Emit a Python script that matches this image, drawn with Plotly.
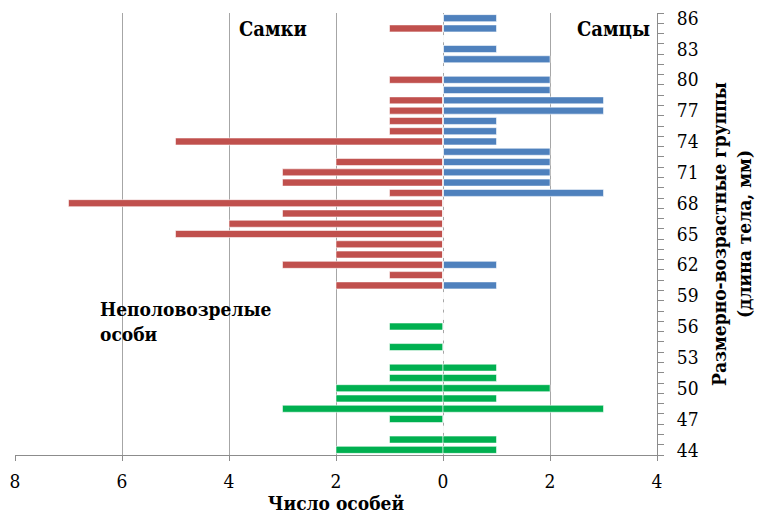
import plotly.graph_objects as go

# Size-age groups (body length, mm)
lengths = [44, 45, 46, 47, 48, 49, 50, 51, 52, 53, 54, 55, 56, 57, 58, 59, 60,
           61, 62, 63, 64, 65, 66, 67, 68, 69, 70, 71, 72, 73, 74, 75, 76, 77,
           78, 79, 80, 81, 82, 83, 84, 85, 86]
# Females (Самки), counts
females = [0, 0, 0, 0, 0, 0, 0, 0, 0, 0, 0, 0, 0, 0, 0, 0, 2,
           1, 3, 2, 2, 5, 4, 3, 7, 1, 3, 3, 2, 0, 5, 1, 1, 1,
           1, 0, 1, 0, 0, 0, 0, 1, 0]
# Males (Самцы), counts
males = [0, 0, 0, 0, 0, 0, 0, 0, 0, 0, 0, 0, 0, 0, 0, 0, 1,
         0, 1, 0, 0, 0, 0, 0, 0, 3, 2, 2, 2, 2, 1, 1, 1, 3,
         3, 2, 2, 0, 2, 1, 0, 1, 1]
# Immature (Неполовозрелые особи), left side and right side counts
immature_left = [2, 1, 0, 1, 3, 2, 2, 1, 1, 0, 1, 0, 1, 0, 0, 0, 0,
                 0, 0, 0, 0, 0, 0, 0, 0, 0, 0, 0, 0, 0, 0, 0, 0, 0,
                 0, 0, 0, 0, 0, 0, 0, 0, 0]
immature_right = [1, 1, 0, 0, 3, 1, 2, 1, 1, 0, 0, 0, 0, 0, 0, 0, 0,
                  0, 0, 0, 0, 0, 0, 0, 0, 0, 0, 0, 0, 0, 0, 0, 0, 0,
                  0, 0, 0, 0, 0, 0, 0, 0, 0]

x_tickvals = [-8, -6, -4, -2, 0, 2, 4]
x_ticktext = ["8", "6", "4", "2", "0", "2", "4"]
y_tickvals = [44, 47, 50, 53, 56, 59, 62, 65, 68, 71, 74, 77, 80, 83, 86]

RED = "#C0504D"
BLUE = "#4F81BD"
GREEN = "#00B050"
FONT = "DejaVu Serif Condensed, DejaVu Serif"
BAR_W = 0.68
EDGE = dict(color="rgba(255,255,255,0.55)", width=1)

fig = go.Figure()
fig.add_trace(go.Bar(y=lengths, x=[-v for v in females], orientation="h",
                     marker=dict(color=RED, line=EDGE), width=BAR_W, name="Самки"))
fig.add_trace(go.Bar(y=lengths, x=males, orientation="h",
                     marker=dict(color=BLUE, line=EDGE), width=BAR_W, name="Самцы"))
fig.add_trace(go.Bar(y=lengths, x=[-v for v in immature_left], orientation="h",
                     marker=dict(color=GREEN, line=EDGE), width=BAR_W, name="Неполовозрелые"))
fig.add_trace(go.Bar(y=lengths, x=immature_right, orientation="h",
                     marker=dict(color=GREEN, line=EDGE), width=BAR_W, name="Неполовозрелые"))

minor_vals = [v - 0.5 for v in lengths] + [lengths[-1] + 0.5]

fig.update_layout(
    width=758, height=514,
    margin=dict(l=15, r=101, t=13, b=59, autoexpand=False),
    paper_bgcolor="white", plot_bgcolor="white",
    barmode="overlay",
    showlegend=False,
    font=dict(family=FONT, size=19, color="black"),
    xaxis=dict(
        range=[-8, 4], tickvals=x_tickvals, ticktext=x_ticktext,
        showgrid=True, gridcolor="#A6A6A6", gridwidth=1,
        zeroline=False, automargin=False,
        showline=True, linecolor="#8C8C8C", linewidth=1,
        ticks="outside", ticklen=5, tickcolor="#8C8C8C",
        ticklabelstandoff=4,
        tickfont=dict(family=FONT, size=19),
        title=dict(text="<b>Число особей</b>", font=dict(family=FONT, size=19), standoff=1),
    ),
    yaxis=dict(
        range=[43.5, 86.5], side="right",
        tickvals=y_tickvals, showgrid=False, zeroline=False, automargin=False,
        showline=True, linecolor="#8C8C8C", linewidth=1,
        ticks="", ticklabelstandoff=15,
        tickfont=dict(family=FONT, size=19),
        minor=dict(tickvals=minor_vals, ticks="outside", ticklen=6,
                   tickcolor="#8C8C8C", showgrid=False),
        title=dict(text="<b>Размерно-возрастные группы<br>(длина тела, мм)</b>",
                   font=dict(family=FONT, size=19), standoff=15),
    ),
    annotations=[
        dict(x=-3.18, y=84.9, xref="x", yref="y", text="<b>Самки</b>", showarrow=False,
             font=dict(family=FONT, size=20)),
        dict(x=3.18, y=84.9, xref="x", yref="y", text="<b>Самцы</b>", showarrow=False,
             font=dict(family=FONT, size=20)),
        dict(x=-6.45, y=56.5, xref="x", yref="y", text="<b>Неполовозрелые<br>особи</b>",
             showarrow=False, xanchor="left", align="left",
             font=dict(family=FONT, size=19)),
    ],
)

fig.write_html("out.html", config={"displayModeBar": False},
               post_script="document.body.style.margin='0px';")
